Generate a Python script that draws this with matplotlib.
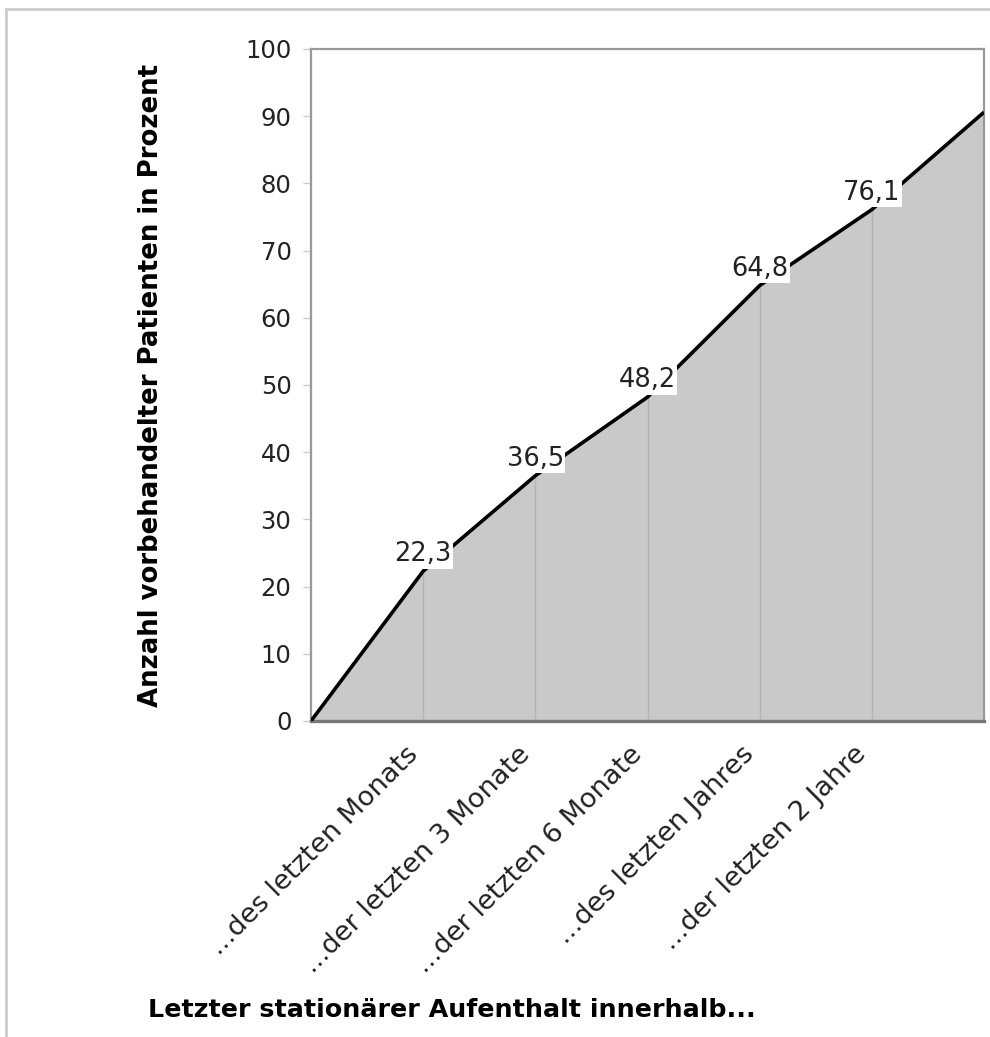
import matplotlib
matplotlib.use("Agg")
import matplotlib.pyplot as plt
from matplotlib.lines import Line2D

# Cumulative share of pre-treated patients by time since last inpatient stay
categories = ["...des letzten Monats", "...der letzten 3 Monate", "...der letzten 6 Monate",
              "...des letzten Jahres", "...der letzten 2 Jahre"]
values = [0, 22.3, 36.5, 48.2, 64.8, 76.1, 90.6]
labelled = [22.3, 36.5, 48.2, 64.8, 76.1]
y_ticks = list(range(0, 101, 10))

plt.rcParams["font.family"] = ["DejaVu Sans"]

fig = plt.figure(figsize=(9.9, 10.37), dpi=100)
ax = fig.add_axes([311 / 990, 1 - 721 / 1037, 673 / 990, 672 / 1037])

x = list(range(len(values)))
ax.fill_between(x, values, 0, color="#c9c9c9", linewidth=0, zorder=1)
# drop lines from each category point to the axis
ax.vlines(x[1:-1], 0, values[1:-1], color="#b4b4b4", linewidth=1, zorder=2)
ax.plot(x, values, color="black", linewidth=2.6, zorder=3, solid_capstyle="butt")

for xi, v in zip(x[1:-1], labelled):
    ax.annotate(f"{v:.1f}".replace(".", ","), (xi, v), xytext=(0, 12),
                textcoords="offset points", ha="center", va="center",
                fontsize=18.5, color="#222222", zorder=4,
                bbox=dict(boxstyle="square,pad=0.05", fc="white", ec="none"))

ax.set_xlim(0, len(values) - 1)
ax.set_ylim(0, 100)
ax.set_yticks(y_ticks)
ax.set_yticklabels([str(t) for t in y_ticks], fontsize=17.5, color="#222222")
ax.set_xticks(x[1:-1])
ax.set_xticklabels(categories, rotation=45, ha="right", va="bottom",
                   rotation_mode="anchor", fontsize=19.5, color="#222222")
ax.tick_params(axis="y", length=6, width=1, color="#cccccc", pad=8)
ax.tick_params(axis="x", length=0, pad=28)

for side in ("left", "top", "right"):
    ax.spines[side].set_color("#999999")
    ax.spines[side].set_linewidth(1.6)
ax.spines["bottom"].set_color("#777777")
ax.spines["bottom"].set_linewidth(2.4)

ax.set_ylabel("Anzahl vorbehandelter Patienten in Prozent", fontsize=18.7,
              fontweight="bold", color="black")
ax.yaxis.set_label_coords((164 - 311) / 673, 0.5)

fig.text(148 / 990, 1 - 1010 / 1037, "Letzter stationärer Aufenthalt innerhalb...",
         ha="left", va="center", fontsize=18.3, fontweight="bold", color="black")

# outer frame (top and left edges)
fig.add_artist(Line2D([6 / 990, 6 / 990], [0, 1 - 9 / 1037], transform=fig.transFigure,
                      color="#cccccc", linewidth=2))
fig.add_artist(Line2D([6 / 990, 1], [1 - 9 / 1037, 1 - 9 / 1037], transform=fig.transFigure,
                      color="#cccccc", linewidth=2))

fig.savefig("out.png", dpi=100)
